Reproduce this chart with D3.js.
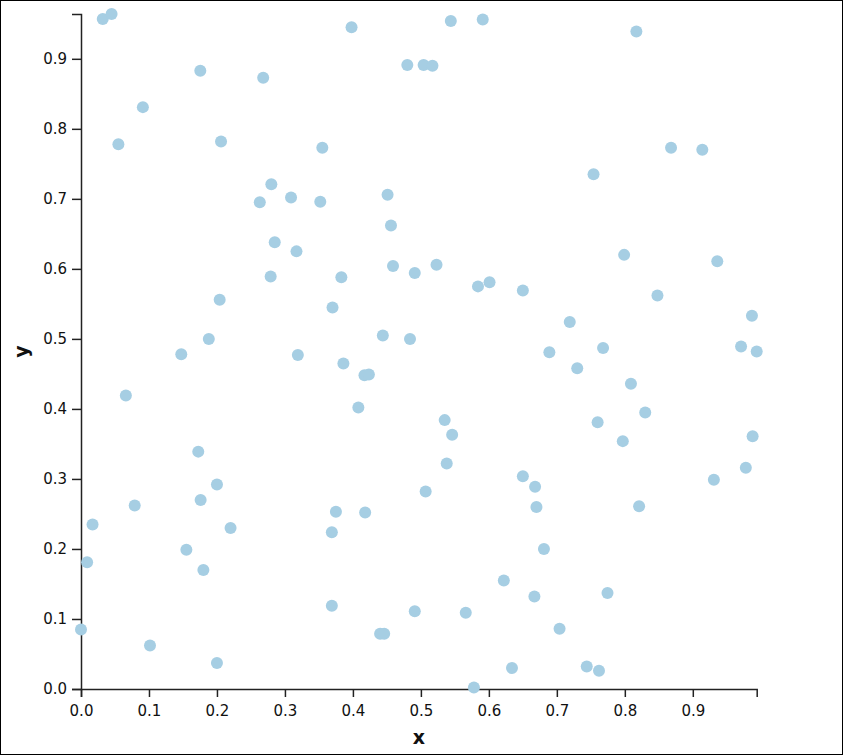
<!DOCTYPE html>
<html>
<head>
<meta charset="utf-8">
<script src="https://cdn.jsdelivr.net/npm/d3@7"></script>
<style>
  html, body { margin: 0; padding: 0; background: #fff; }
  svg { display: block; }
  .axis text { font-family: "DejaVu Sans", sans-serif; font-size: 15px; fill: #111; }
  .axis path, .axis line { stroke: #222; stroke-width: 1.5px; }
  .label { font-family: "DejaVu Sans", sans-serif; font-size: 19px; font-weight: bold; fill: #111; }
</style>
</head>
<body>
<script>
const xValues = [
  0.032, 0.045, 0.1755, 0.268, 0.091, 0.055, 0.206, 0.280, 0.263, 0.309,
  0.285, 0.317, 0.279, 0.204, 0.188, 0.398, 0.544, 0.591, 0.480, 0.504,
  0.517, 0.355, 0.352, 0.451, 0.456, 0.459, 0.491, 0.523, 0.383, 0.584,
  0.601, 0.650, 0.370, 0.444, 0.484, 0.817, 0.868, 0.914, 0.754, 0.799,
  0.936, 0.848, 0.719, 0.987, 0.768, 0.971, 0.994, 0.689, 0.730, 0.809,
  0.830, 0.760, 0.797, 0.988, 0.978, 0.931, 0.668, 0.670, 0.821, 0.681,
  0.667, 0.7745, 0.704, 0.744, 0.762, 0.386, 0.417, 0.4235, 0.408, 0.535,
  0.546, 0.538, 0.507, 0.650, 0.375, 0.418, 0.369, 0.369, 0.491, 0.566,
  0.622, 0.440, 0.446, 0.634, 0.578, 0.1475, 0.319, 0.066, 0.1725, 0.200,
  0.176, 0.079, 0.017, 0.220, 0.155, 0.009, 0.180, 0.000, 0.1015, 0.200
];
const yValues = [
  0.957, 0.964, 0.883, 0.873, 0.831, 0.778, 0.782, 0.721, 0.695, 0.702,
  0.638, 0.625, 0.589, 0.556, 0.500, 0.945, 0.954, 0.956, 0.891, 0.891,
  0.890, 0.773, 0.696, 0.706, 0.662, 0.604, 0.594, 0.606, 0.588, 0.575,
  0.581, 0.569, 0.545, 0.505, 0.500, 0.939, 0.773, 0.770, 0.735, 0.620,
  0.611, 0.562, 0.524, 0.533, 0.487, 0.489, 0.482, 0.481, 0.458, 0.436,
  0.395, 0.381, 0.354, 0.361, 0.316, 0.299, 0.289, 0.260, 0.261, 0.200,
  0.132, 0.137, 0.086, 0.032, 0.026, 0.465, 0.448, 0.449, 0.402, 0.384,
  0.363, 0.322, 0.282, 0.304, 0.253, 0.252, 0.224, 0.119, 0.111, 0.109,
  0.155, 0.079, 0.079, 0.030, 0.002, 0.478, 0.477, 0.419, 0.339, 0.292,
  0.270, 0.262, 0.235, 0.230, 0.199, 0.181, 0.170, 0.085, 0.062, 0.037
];
const xTicks = [0.0, 0.1, 0.2, 0.3, 0.4, 0.5, 0.6, 0.7, 0.8, 0.9];
const yTicks = [0.0, 0.1, 0.2, 0.3, 0.4, 0.5, 0.6, 0.7, 0.8, 0.9];
const xLabel = "x";
const yLabel = "y";

const W = 843, H = 755;
const margin = { top: 14, right: 86.3, bottom: 66, left: 81 };
const data = xValues.map((x, i) => ({ x, y: yValues[i] }));

const svg = d3.select("body").append("svg").attr("width", W).attr("height", H);
svg.append("rect").attr("x", 0.5).attr("y", 0.5).attr("width", W - 1).attr("height", H - 1)
  .attr("fill", "#fff").attr("stroke", "#000").attr("stroke-width", 1);

const x = d3.scaleLinear().domain([0, d3.max(xValues)]).range([margin.left, W - margin.right]);
const y = d3.scaleLinear().domain([0, d3.max(yValues)]).range([H - margin.bottom, margin.top]);

svg.append("g").attr("class", "axis")
  .attr("transform", `translate(0,${H - margin.bottom})`)
  .call(d3.axisBottom(x).tickValues(xTicks).tickFormat(d3.format(".1f")).tickSize(8).tickPadding(8));

svg.append("g").attr("class", "axis")
  .attr("transform", `translate(${margin.left},0)`)
  .call(d3.axisLeft(y).tickValues(yTicks).tickFormat(d3.format(".1f")).tickSize(9).tickPadding(5));

svg.append("g").selectAll("circle").data(data).join("circle")
  .attr("cx", d => x(d.x)).attr("cy", d => y(d.y)).attr("r", 6)
  .attr("fill", "#a6cee3");

svg.append("text").attr("class", "label")
  .attr("x", (x.range()[0] + x.range()[1]) / 2).attr("y", 744)
  .attr("text-anchor", "middle").text(xLabel);

svg.append("text").attr("class", "label")
  .attr("transform", `translate(28,${(y.range()[0] + y.range()[1]) / 2}) rotate(-90)`)
  .attr("text-anchor", "middle").text(yLabel);
</script>
</body>
</html>
